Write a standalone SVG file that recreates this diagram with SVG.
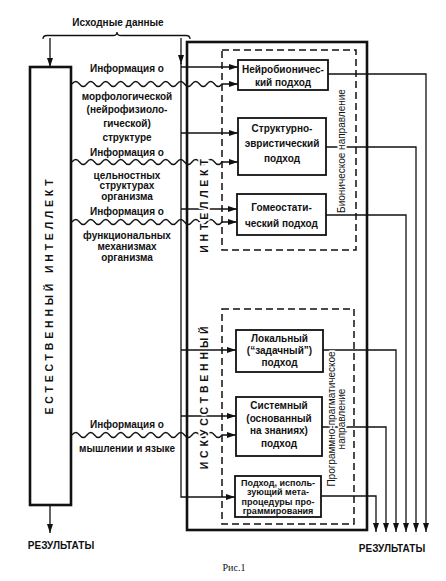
<svg xmlns="http://www.w3.org/2000/svg" width="446" height="581" viewBox="0 0 446 581">
<style>
.t{font-family:"Liberation Sans",Arial,sans-serif;font-size:10px;font-weight:bold;fill:#111;text-anchor:middle}
.r{font-family:"Liberation Sans",Arial,sans-serif;font-size:10px;fill:#111;text-anchor:middle}
.v{font-family:"Liberation Sans",Arial,sans-serif;font-size:10.5px;font-weight:bold;fill:#111;text-anchor:middle;dominant-baseline:central;letter-spacing:3.8px}
.s{font-size:9px}
.halo{stroke:#fff;stroke-width:3.5px;paint-order:stroke;stroke-linejoin:round}
.box{fill:none;stroke:#111;stroke-width:1.8}
.big{fill:none;stroke:#111;stroke-width:2.6}
.dash{fill:none;stroke:#111;stroke-width:1.5;stroke-dasharray:7 4}
.c{fill:none;stroke:#111;stroke-width:1.3}
.a{marker-end:url(#ah)}
</style>
<defs>
<marker id="ah" markerWidth="9" markerHeight="6" refX="9" refY="3" orient="auto" markerUnits="userSpaceOnUse"><path d="M0,0 L9,3 L0,6 z" fill="#111"/></marker>
</defs>
<rect width="446" height="581" fill="#fff"/>

<g id="connectors">
<path class="c" d="M43,39 Q43,35.5 47,35.5 L113,35.5 Q117,35.5 117,32 Q117,35.5 121,35.5 L186,35.5 Q190,35.5 190,39"/>
<path class="c a" d="M50,38 V67"/>
<path class="c a" d="M50,505 V533"/>
<path class="c a" d="M181,38 V64"/>
<path class="c a" d="M181,63 V497 H235"/>
<path class="c a" d="M181,67 H238"/>
<path class="c a" d="M181,133 H238"/>
<path class="c a" d="M181,209 H237"/>
<path class="c a" d="M181,350 H236"/>
<path class="c a" d="M181,416 H236"/>
<path class="c a" d="M72,84 q3.75,-5 7.5,0 t7.5,0 t7.5,0 t7.5,0 t7.5,0 t7.5,0 t7.5,0 t7.5,0 t7.5,0 t7.5,0 t7.5,0 t7.5,0 t7.5,0 t7.5,0 t7.5,0 t7.5,0 t7.5,0 t7.5,0 t7.5,0 t7.5,0 H238"/>
<path class="c a" d="M72,162 q3.75,-5 7.5,0 t7.5,0 t7.5,0 t7.5,0 t7.5,0 t7.5,0 t7.5,0 t7.5,0 t7.5,0 t7.5,0 t7.5,0 t7.5,0 t7.5,0 t7.5,0 t7.5,0 t7.5,0 t7.5,0 t7.5,0 t7.5,0 t7.5,0 H238"/>
<path class="c a" d="M72,222 q3.75,-5 7.5,0 t7.5,0 t7.5,0 t7.5,0 t7.5,0 t7.5,0 t7.5,0 t7.5,0 t7.5,0 t7.5,0 t7.5,0 t7.5,0 t7.5,0 t7.5,0 t7.5,0 t7.5,0 t7.5,0 t7.5,0 t7.5,0 t7.5,0 H237"/>
<path class="c a" d="M72,435 q3.75,-5 7.5,0 t7.5,0 t7.5,0 t7.5,0 t7.5,0 t7.5,0 t7.5,0 t7.5,0 t7.5,0 t7.5,0 t7.5,0 t7.5,0 t7.5,0 t7.5,0 t7.5,0 t7.5,0 t7.5,0 t7.5,0 t7.5,0 t7.5,0 H236"/>
<path class="c a" d="M328,74 H426 V532"/>
<path class="c a" d="M326,147 H416 V532"/>
<path class="c a" d="M326,215 H406 V532"/>
<path class="c a" d="M323,350 H396 V532"/>
<path class="c a" d="M322,427 H386 V532"/>
<path class="c a" d="M321,496 H376 V532"/>
</g>

<g id="natural-intellect">
<rect class="big" x="30" y="67" width="41" height="438"/>
<text class="v" transform="translate(49,295) rotate(-90)">ЕСТЕСТВЕННЫЙ ИНТЕЛЛЕКТ</text>
</g>

<g id="artificial-intellect">
<rect class="big" x="187" y="42" width="180" height="488"/>
<text class="v halo" transform="translate(204,204) rotate(-90)">ИНТЕЛЛЕКТ</text>
<text class="v halo" transform="translate(204,396) rotate(-90)">ИСКУССТВЕННЫЙ</text>
</g>

<g id="bionic">
<rect class="dash" x="222" y="50" width="134" height="200"/>
<text class="r halo" dominant-baseline="central" transform="translate(341,151) rotate(-90)">Бионическое направление</text>
</g>

<g id="pragmatic">
<rect class="dash" x="222" y="309" width="132" height="215"/>
<text class="r halo" dominant-baseline="central" transform="translate(331,419) rotate(-90)">Программно-прагматическое</text>
<text class="r halo" dominant-baseline="central" transform="translate(341,419) rotate(-90)">направление</text>
</g>

<g id="source">
<text class="t" x="118" y="25.5">Исходные данные</text>
</g>

<g id="info-labels">
<text class="t" x="127" y="71.5">Информация о</text>
<text class="t" x="127" y="99.5">морфологической</text>
<text class="t" x="127" y="112.5">(нейрофизиоло-</text>
<text class="t" x="127" y="126.5">гической)</text>
<text class="t" x="127" y="140.5">структуре</text>
<text class="t" x="127" y="155.5">Информация о</text>
<text class="t" x="127" y="178.5">цельностных</text>
<text class="t" x="127" y="189">структурах</text>
<text class="t" x="127" y="199.5">организма</text>
<text class="t" x="127" y="214.5">Информация о</text>
<text class="t" x="127" y="238.5">функциональных</text>
<text class="t" x="127" y="250">механизмах</text>
<text class="t" x="127" y="261">организма</text>
<text class="t" x="127" y="427.5">Информация о</text>
<text class="t" x="127" y="451.5">мышлении и языке</text>
</g>

<g id="neurobionic">
<rect class="box" x="238" y="60" width="90" height="30"/>
<text class="t" x="283" y="73">Нейробионичес-</text>
<text class="t" x="283" y="85.5">кий подход</text>
</g>

<g id="structural">
<rect class="box" x="238" y="118" width="88" height="57"/>
<text class="t" x="282" y="131.5">Структурно-</text>
<text class="t" x="282" y="146.5">эвристический</text>
<text class="t" x="282" y="161.5">подход</text>
</g>

<g id="homeostatic">
<rect class="box" x="237" y="194" width="89" height="41"/>
<text class="t" x="281.5" y="210.5">Гомеостати-</text>
<text class="t" x="281.5" y="226.5">ческий подход</text>
</g>

<g id="local">
<rect class="box" x="236" y="330" width="87" height="42"/>
<text class="t" x="279.5" y="341.5">Локальный</text>
<text class="t" x="279.5" y="354">(“задачный”)</text>
<text class="t" x="279.5" y="366">подход</text>
</g>

<g id="system">
<rect class="box" x="236" y="397" width="86" height="59"/>
<text class="t" x="279" y="408.5">Системный</text>
<text class="t" x="279" y="421.5">(основанный</text>
<text class="t" x="279" y="433.5">на знаниях)</text>
<text class="t" x="279" y="446.5">подход</text>
</g>

<g id="meta">
<rect class="box" x="235" y="476" width="86" height="41"/>
<text class="t s" x="278" y="485.5">Подход, исполь-</text>
<text class="t s" x="278" y="495">зующий мета-</text>
<text class="t s" x="278" y="504.5">процедуры про-</text>
<text class="t s" x="278" y="514">граммирования</text>
</g>

<g id="results">
<text class="t" x="61" y="549">РЕЗУЛЬТАТЫ</text>
<text class="t" x="392" y="552">РЕЗУЛЬТАТЫ</text>
<text style="font-family:'Liberation Serif','Times New Roman',serif;font-size:10px;fill:#111" x="234" y="571" text-anchor="middle">Рис.1</text>
</g>
</svg>
